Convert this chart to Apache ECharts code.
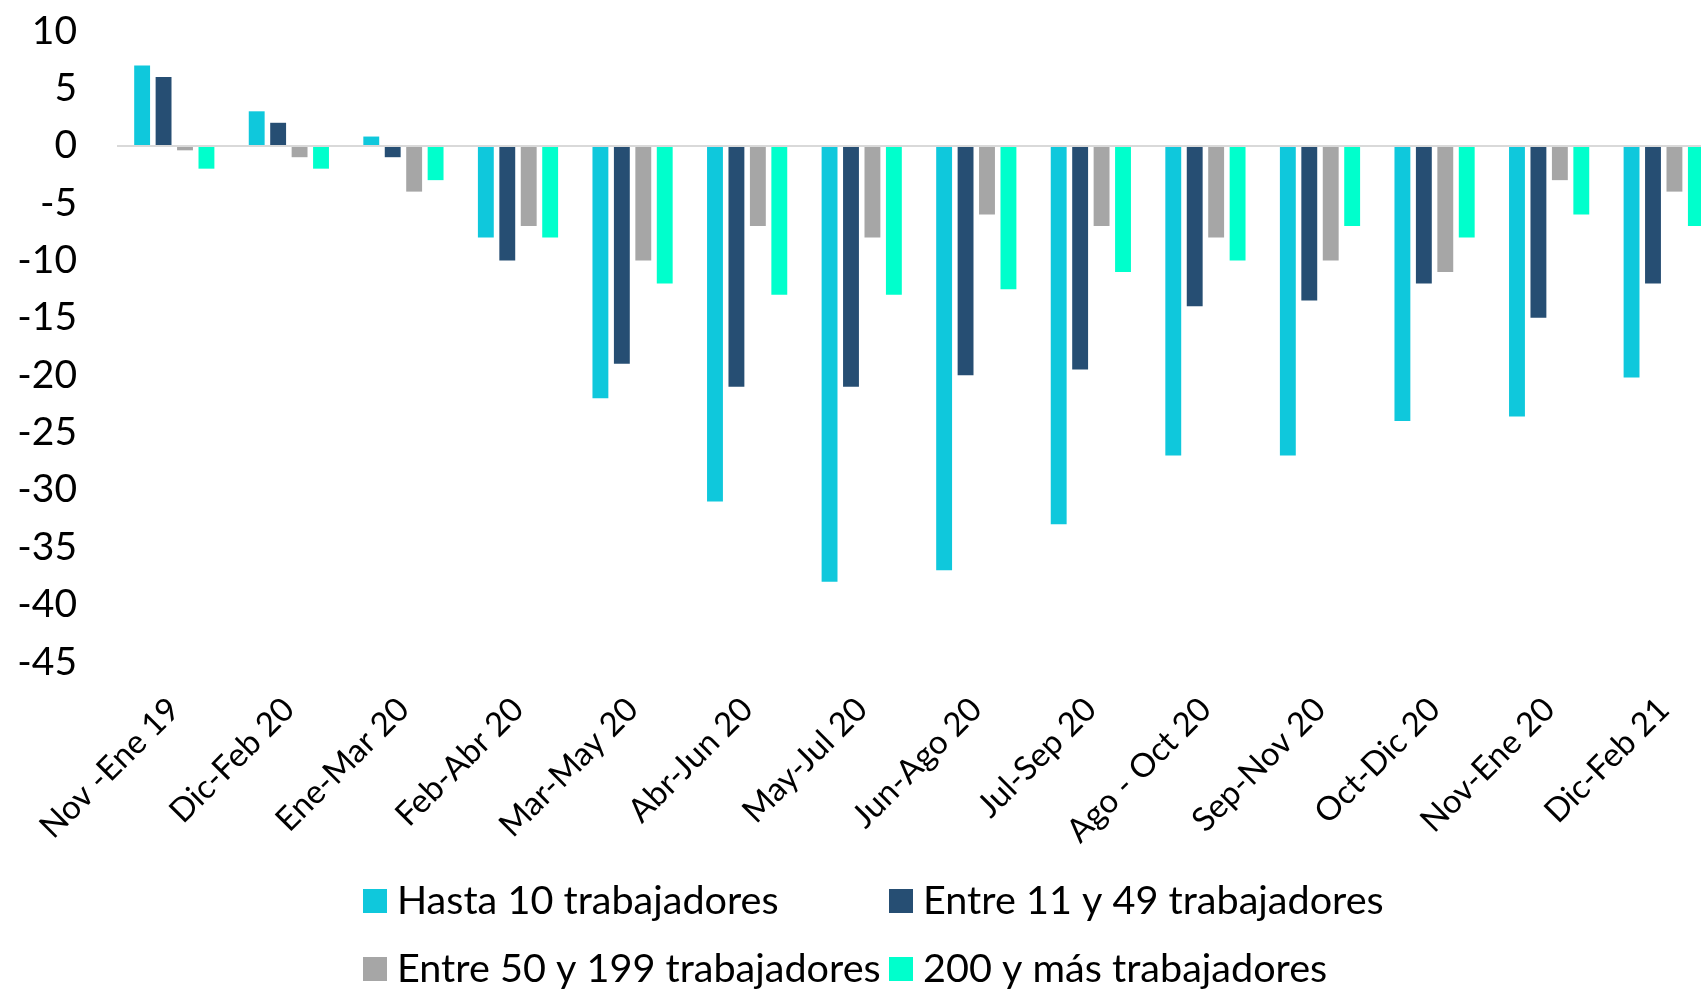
<!DOCTYPE html>
<html>
<head>
<meta charset="utf-8">
<title>Variación por tamaño de empresa</title>
<script src="https://cdn.jsdelivr.net/npm/echarts@6/dist/echarts.min.js"></script>
<style>
    html, body { margin: 0; padding: 0; background: #fff; }
    #main { width: 1701px; height: 990px; }
</style>
</head>
<body>
<div id="main"></div>
<script>
// datos
var periodos = ['Nov -Ene 19', 'Dic-Feb 20', 'Ene-Mar 20', 'Feb-Abr 20', 'Mar-May 20', 'Abr-Jun 20',
    'May-Jul 20', 'Jun-Ago 20', 'Jul-Sep 20', 'Ago - Oct 20', 'Sep-Nov 20', 'Oct-Dic 20', 'Nov-Ene 20', 'Dic-Feb 21'];
var hasta10 = [7, 3, 0.8, -8, -22, -31, -38, -37, -33, -27, -27, -24, -23.6, -20.2];
var entre11y49 = [6, 2, -1, -10, -19, -21, -21, -20, -19.5, -14, -13.5, -12, -15, -12];
var entre50y199 = [-0.4, -1, -4, -7, -10, -7, -8, -6, -7, -8, -10, -11, -3, -4];
var mas200 = [-2, -2, -3, -8, -12, -13, -13, -12.5, -11, -10, -7, -8, -6, -7];
var ticksY = { min: -45, max: 10, step: 5 };

var nombres = ['Hasta 10 trabajadores', 'Entre 11 y 49 trabajadores', 'Entre 50 y 199 trabajadores', '200 y más trabajadores'];
var colores = ['#0FC8DC', '#264E73', '#A6A6A6', '#00FFCC'];

var fuente = 'Lato';
var chart = echarts.init(document.getElementById('main'));

// una leyenda por item para dejarlas en dos columnas
var legendPos = [
    { left: 363, top: 881 },
    { left: 889, top: 881 },
    { left: 363, top: 949 },
    { left: 889, top: 949 }
];
var legends = [];
for (var i = 0; i < nombres.length; i++) {
    legends.push({
        data: [nombres[i]],
        left: legendPos[i].left,
        top: legendPos[i].top,
        padding: 0,
        icon: 'rect',
        itemWidth: 24,
        itemHeight: 24,
        selectedMode: false,
        textStyle: {
            fontFamily: fuente,
            fontSize: 39.6,
            lineHeight: 40,
            color: '#000',
            padding: [0, 0, 0, 5]
        }
    });
}

var series = [];
var datos = [hasta10, entre11y49, entre50y199, mas200];
for (var j = 0; j < datos.length; j++) {
    series.push({
        name: nombres[j],
        type: 'bar',
        data: datos[j],
        barGap: '35%',
        barCategoryGap: '30%',
        itemStyle: { color: colores[j] }
    });
}
// linea del cero
series[0].markLine = {
    silent: true,
    symbol: 'none',
    label: { show: false },
    lineStyle: { color: '#D9D9D9', width: 2, type: 'solid' },
    data: [{ yAxis: 0 }]
};

chart.setOption({
    animation: false,
    backgroundColor: '#fff',
    // el area del grafico sigue un poco mas alla del borde derecho
    grid: { left: 117, width: 1604, top: 31, bottom: 328, outerBoundsMode: 'none' },
    legend: legends,
    xAxis: {
        type: 'category',
        data: periodos,
        axisLine: { show: false },
        axisTick: { show: false },
        axisLabel: {
            interval: 0,
            rotate: 45,
            margin: 42,
            fontFamily: fuente,
            fontSize: 33,
            color: '#000'
        }
    },
    yAxis: {
        type: 'value',
        min: ticksY.min,
        max: ticksY.max,
        interval: ticksY.step,
        axisLine: { show: false },
        axisTick: { show: false },
        splitLine: { show: false },
        axisLabel: {
            margin: 40,
            fontFamily: fuente,
            fontSize: 39,
            color: '#000'
        }
    },
    series: series
});
</script>
</body>
</html>
